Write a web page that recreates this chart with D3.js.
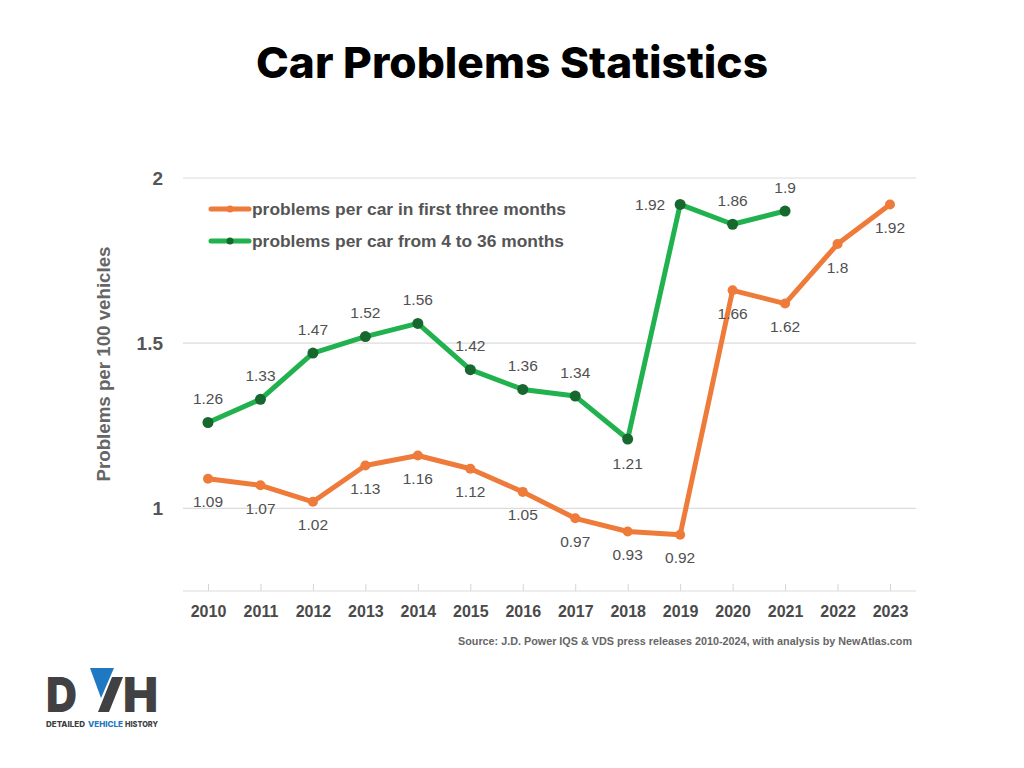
<!DOCTYPE html>
<html><head><meta charset="utf-8">
<script src="https://cdn.jsdelivr.net/npm/d3@7"></script>
<style>body{margin:0;background:#fff}svg{display:block}</style>
</head><body>
<svg id="c" width="1024" height="768"></svg>
<script>
const years = [2010,2011,2012,2013,2014,2015,2016,2017,2018,2019,2020,2021,2022,2023];
const firstThreeMonths = [1.09,1.07,1.02,1.13,1.16,1.12,1.05,0.97,0.93,0.92,1.66,1.62,1.8,1.92];
const fourTo36Months = [1.26,1.33,1.47,1.52,1.56,1.42,1.36,1.34,1.21,1.92,1.86,1.9];
const yTicks = [1, 1.5, 2];
const seriesNames = ["problems per car in first three months","problems per car from 4 to 36 months"];

const svg = d3.select("#c");
const orange = "#ee7b3a", green = "#21b24f", greenDot = "#17682f";
const x = d3.scalePoint().domain(years).range([208, 890]);
const y = d3.scaleLinear().domain([0.75, 2]).range([591, 178]);
const left = 183, right = 916;
const font = "Liberation Sans, Arial, sans-serif";

svg.append("text").attr("x", 512).attr("y", 78).attr("text-anchor","middle")
  .attr("font-family","Inter, sans-serif").attr("font-weight",800).attr("font-size",43)
  .attr("textLength",512).attr("lengthAdjust","spacingAndGlyphs")
  .attr("fill","#000").text("Car Problems Statistics");

// gridlines
svg.append("g").selectAll("line").data(yTicks).join("line")
  .attr("x1", left).attr("x2", right).attr("y1", d=>y(d)).attr("y2", d=>y(d))
  .attr("stroke","#dcdcdc").attr("stroke-width",1.2);
svg.append("g").selectAll("text").data(yTicks).join("text")
  .attr("x", 163).attr("y", d=>y(d)+7).attr("text-anchor","end")
  .attr("font-family",font).attr("font-weight",700)
  .attr("font-size",19).attr("fill","#555").text(d=>d);

// x axis
const xAxis = d3.axisBottom(x).tickSize(-7).tickPadding(15).tickSizeOuter(0);
const gx = svg.append("g").attr("transform",`translate(0,${y(0.75)})`).call(xAxis);
gx.select(".domain").remove();
gx.selectAll(".tick line").attr("stroke","#d4d4d4");
gx.selectAll(".tick text").attr("font-family",font)
  .attr("font-weight",700).attr("font-size",16).attr("fill","#4a4a4a");
svg.append("line").attr("x1",left).attr("x2",right).attr("y1",y(0.75)).attr("y2",y(0.75))
  .attr("stroke","#dcdcdc").attr("stroke-width",1.2);

// y label
svg.append("text").attr("transform","translate(110,364) rotate(-90)").attr("text-anchor","middle")
  .attr("font-family",font).attr("font-weight",700)
  .attr("font-size",19).attr("textLength",235).attr("lengthAdjust","spacingAndGlyphs")
  .attr("fill","#666").text("Problems per 100 vehicles");

// lines
const line = d3.line().x(d=>x(d.year)).y(d=>y(d.v));
const oData = years.map((yr,i)=>({year:yr, v:firstThreeMonths[i], i}));
const gData = fourTo36Months.map((v,i)=>({year:years[i], v, i}));

svg.append("path").datum(oData).attr("d",line).attr("fill","none")
  .attr("stroke",orange).attr("stroke-width",5).attr("stroke-linejoin","round");
svg.append("g").selectAll("circle").data(oData).join("circle")
  .attr("cx",d=>x(d.year)).attr("cy",d=>y(d.v)).attr("r",5).attr("fill",orange);
svg.append("path").datum(gData).attr("d",line).attr("fill","none")
  .attr("stroke",green).attr("stroke-width",5).attr("stroke-linejoin","round");
svg.append("g").selectAll("circle").data(gData).join("circle")
  .attr("cx",d=>x(d.year)).attr("cy",d=>y(d.v)).attr("r",5.5).attr("fill",greenDot);

// data labels: orange below, green above (except the 2018 dip below, 2019 peak to the left)
const gPos = d => d.year === 2018 ? {dx:0, dy:24} : d.year === 2019 ? {dx:-30, dy:0} : {dx:0, dy:-24};
svg.append("g").selectAll("text").data(oData).join("text")
  .attr("x",d=>x(d.year)).attr("y",d=>y(d.v)+23+5.5).attr("text-anchor","middle")
  .attr("font-family",font).attr("font-size",15.5).attr("fill","#505050").text(d=>d.v);
svg.append("g").selectAll("text").data(gData).join("text")
  .attr("x",d=>x(d.year)+gPos(d).dx).attr("y",d=>y(d.v)+gPos(d).dy+5.5).attr("text-anchor","middle")
  .attr("font-family",font).attr("font-size",15.5).attr("fill","#505050").text(d=>d.v);

// legend
const leg = svg.append("g");
[[orange,orange,209],[green,greenDot,241]].forEach((c,i)=>{
  leg.append("line").attr("x1",211).attr("x2",249).attr("y1",c[2]).attr("y2",c[2])
    .attr("stroke",c[0]).attr("stroke-width",5).attr("stroke-linecap","round");
  leg.append("circle").attr("cx",230).attr("cy",c[2]).attr("r",3.5).attr("fill",c[1]);
  leg.append("text").attr("x",252).attr("y",c[2]+5.5).attr("font-family",font)
    .attr("font-weight",700).attr("font-size",16.5).attr("fill","#555")
    .attr("textLength", i===0 ? 314 : 312).attr("lengthAdjust","spacingAndGlyphs")
    .text(seriesNames[i]);
});

// source
svg.append("text").attr("x",912).attr("y",645).attr("text-anchor","end")
  .attr("font-family",font).attr("font-weight",700).attr("font-size",11)
  .attr("textLength",454).attr("lengthAdjust","spacingAndGlyphs")
  .attr("fill","#666").text("Source: J.D. Power IQS & VDS press releases 2010-2024, with analysis by NewAtlas.com");

// logo
const logo = svg.append("g");
const lf = "Inter, sans-serif", logoGray = "#414042", logoBlue = "#1e78c2";
logo.append("text").attr("x",46).attr("y",712).attr("font-family",lf).attr("font-weight",900)
  .attr("font-size",48).attr("textLength",31).attr("lengthAdjust","spacingAndGlyphs")
  .attr("fill",logoGray).text("D");
logo.append("path").attr("d","M90,668 L114,668 L101,698 Z").attr("fill",logoBlue);
logo.append("path").attr("d","M98,712 L109,712 L123,677 L112,677 Z").attr("fill",logoGray);
logo.append("text").attr("x",123).attr("y",712).attr("font-family",lf).attr("font-weight",900)
  .attr("font-size",48).attr("textLength",35).attr("lengthAdjust","spacingAndGlyphs")
  .attr("fill",logoGray).text("H");
[["DETAILED",46,39,logoGray],["VEHICLE",88,35,logoBlue],["HISTORY",125,33,logoGray]].forEach(t=>{
  logo.append("text").attr("x",t[1]).attr("y",727).attr("font-family",lf).attr("font-weight",800)
    .attr("font-size",8).attr("textLength",t[2]).attr("lengthAdjust","spacingAndGlyphs")
    .attr("fill",t[3]).text(t[0]);
});
</script>
</body></html>
